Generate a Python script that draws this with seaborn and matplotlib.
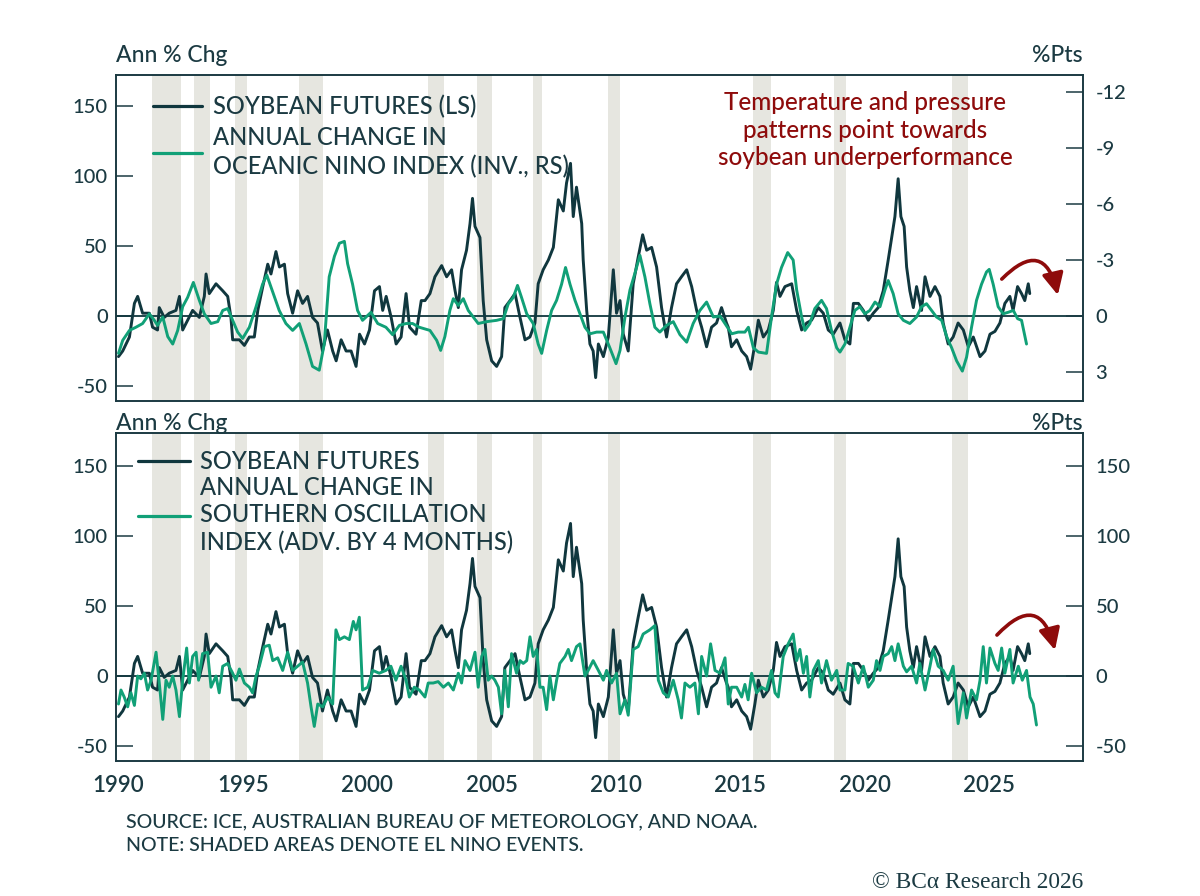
import matplotlib
matplotlib.use("Agg")
import matplotlib.pyplot as plt
import numpy as np
import pandas as pd
import seaborn as sns

# ---------------- DATA ----------------
soy_years = [1990.00, 1990.17, 1990.44, 1990.64, 1990.77, 1990.97, 1991.24, 1991.37, 1991.57, 1991.64,
             1991.84, 1992.04, 1992.31, 1992.45, 1992.58, 1992.78, 1992.98, 1993.25, 1993.45, 1993.52,
             1993.65, 1993.92, 1994.19, 1994.39, 1994.52, 1994.59, 1994.86, 1995.06, 1995.26, 1995.46,
             1995.60, 1995.80, 1996.00, 1996.13, 1996.33, 1996.47, 1996.67, 1996.80, 1997.00, 1997.20,
             1997.40, 1997.60, 1997.80, 1998.00, 1998.20, 1998.40, 1998.61, 1998.75, 1998.95, 1999.15,
             1999.35, 1999.55, 1999.69, 1999.89, 2000.09, 2000.29, 2000.49, 2000.62, 2000.76, 2000.96,
             2001.16, 2001.36, 2001.56, 2001.70, 2001.96, 2002.17, 2002.32, 2002.52, 2002.72, 2002.99,
             2003.19, 2003.39, 2003.53, 2003.66, 2003.79, 2003.99, 2004.13, 2004.23, 2004.33, 2004.53,
             2004.66, 2004.80, 2005.00, 2005.20, 2005.40, 2005.53, 2005.74, 2005.94, 2006.14, 2006.34,
             2006.54, 2006.74, 2006.87, 2007.07, 2007.28, 2007.48, 2007.68, 2007.88, 2008.01, 2008.17,
             2008.28, 2008.41, 2008.62, 2008.68, 2008.82, 2008.95, 2009.08, 2009.18, 2009.29, 2009.49,
             2009.69, 2009.89, 2010.02, 2010.16, 2010.29, 2010.49, 2010.69, 2010.89, 2011.07, 2011.23,
             2011.43, 2011.63, 2011.83, 2012.03, 2012.23, 2012.43, 2012.63, 2012.84, 2013.04, 2013.24,
             2013.44, 2013.64, 2013.84, 2014.04, 2014.24, 2014.44, 2014.51, 2014.64, 2014.85, 2015.05,
             2015.25, 2015.41, 2015.58, 2015.72, 2015.92, 2016.12, 2016.32, 2016.45, 2016.59, 2016.79,
             2017.06, 2017.26, 2017.46, 2017.66, 2017.86, 2018.13, 2018.33, 2018.53, 2018.73, 2019.00,
             2019.20, 2019.40, 2019.54, 2019.74, 2019.94, 2020.14, 2020.34, 2020.54, 2020.74, 2020.94,
             2021.08, 2021.21, 2021.34, 2021.45, 2021.58, 2021.68, 2021.81, 2021.95, 2022.08, 2022.28,
             2022.42, 2022.62, 2022.82, 2023.02, 2023.15, 2023.35, 2023.55, 2023.75, 2023.96, 2024.16,
             2024.36, 2024.63, 2024.83, 2025.03, 2025.23, 2025.43, 2025.63, 2025.83, 2025.96, 2026.14,
             2026.30, 2026.43, 2026.57, 2026.63]
soy_values = [-29, -25, -15, 9, 14, 2, 2, -8, -10, 6,
              -1, 2, 4, 14, -10, -3, 4, -1, 14, 30,
              16, 23, 18, 14, -1, -17, -17, -21, -15, -15,
              4, 21, 37, 30, 46, 35, 37, 16, 2, 18,
              9, 14, -1, -5, -25, -10, -25, -32, -17, -25,
              -25, -36, -13, -20, -10, 18, 21, 4, 14, -1,
              -20, -15, 16, -8, -13, 11, 11, 16, 28, 36,
              28, 33, 18, 6, 33, 47, 66, 84, 64, 56,
              11, -17, -32, -36, -29, 6, 11, 16, -1, -17,
              -15, -5, 23, 33, 40, 49, 83, 75, 95, 109,
              71, 92, 66, 40, 4, -20, -25, -44, -20, -29,
              -15, 33, 2, 11, -13, -25, 23, 42, 58, 47,
              49, 35, 6, -15, 6, 23, 28, 33, 21, 4,
              -8, -22, -8, -5, 6, -5, -8, -22, -17, -25,
              -29, -38, -20, -3, -15, -10, 4, 24, 14, 21,
              23, 4, -10, -5, -3, 6, 2, -10, -13, -5,
              -17, -20, 9, 9, 4, -3, 2, 6, 18, 40,
              56, 71, 98, 71, 64, 35, 18, 6, 21, 4,
              28, 14, 21, 14, -5, -20, -15, -5, -10, -22,
              -15, -29, -25, -13, -11, -5, 9, 14, 4, 21,
              16, 11, 23, 16]

oni_years = [1990.00, 1990.17, 1990.44, 1990.70, 1990.97, 1991.24, 1991.44, 1991.57, 1991.78, 1991.98,
             1992.18, 1992.38, 1992.58, 1992.78, 1993.01, 1993.25, 1993.45, 1993.72, 1993.99, 1994.19,
             1994.39, 1994.59, 1994.79, 1994.99, 1995.26, 1995.53, 1995.79, 1995.96, 1996.17, 1996.46,
             1996.73, 1997.00, 1997.27, 1997.54, 1997.80, 1998.07, 1998.27, 1998.47, 1998.68, 1998.88,
             1999.08, 1999.21, 1999.41, 1999.61, 1999.81, 2000.15, 2000.42, 2000.75, 2001.02, 2001.29,
             2001.56, 2001.82, 2002.09, 2002.52, 2002.79, 2002.95, 2003.12, 2003.32, 2003.46, 2003.66,
             2003.86, 2004.06, 2004.26, 2004.46, 2004.80, 2005.20, 2005.47, 2005.67, 2005.87, 2006.04,
             2006.20, 2006.41, 2006.67, 2006.87, 2007.01, 2007.21, 2007.41, 2007.61, 2007.81, 2007.97,
             2008.15, 2008.35, 2008.55, 2008.75, 2008.95, 2009.22, 2009.49, 2009.75, 2010.00, 2010.16,
             2010.36, 2010.56, 2010.76, 2010.96, 2011.16, 2011.36, 2011.56, 2011.76, 2012.03, 2012.30,
             2012.57, 2012.84, 2013.10, 2013.37, 2013.64, 2013.91, 2014.18, 2014.38, 2014.65, 2014.91,
             2015.18, 2015.32, 2015.52, 2015.72, 2016.05, 2016.25, 2016.45, 2016.65, 2016.90, 2017.12,
             2017.26, 2017.46, 2017.59, 2017.79, 2017.99, 2018.26, 2018.46, 2018.66, 2018.87, 2019.00,
             2019.20, 2019.40, 2019.60, 2019.80, 2020.00, 2020.20, 2020.41, 2020.61, 2020.81, 2020.94,
             2021.14, 2021.34, 2021.55, 2021.81, 2022.08, 2022.28, 2022.48, 2022.68, 2022.88, 2023.09,
             2023.29, 2023.49, 2023.69, 2023.92, 2024.09, 2024.29, 2024.49, 2024.69, 2024.89, 2025.00,
             2025.16, 2025.36, 2025.56, 2025.76, 2025.97, 2026.14, 2026.30, 2026.50]
oni_values = [2.0, 1.3, 0.77, 0.6, 0.4, -0.12, 0.23, 0.5, 0.05, 1.1,
              1.5, 0.77, -0.5, -1.0, -1.8, -0.84, -0.12, 0.4, 0.3, -0.3,
              -0.4, 0.23, 0.86, 1.2, 0.6, -0.5, -1.7, -2.2, -1.4, -0.3,
              0.4, 0.77, 0.4, 1.5, 2.7, 2.9, 1.5, -2.1, -3.2, -3.9,
              -4.0, -2.8, -1.7, -0.3, 0.23, -0.2, 0.4, 0.6, 1.0, 0.5,
              0.4, 0.4, 0.6, 0.77, 1.3, 1.84, 1.1, -0.3, -0.93, -0.57,
              -0.93, -0.3, 0.05, 0.4, 0.3, 0.23, 0.14, -0.66, -1.0, -1.64,
              -1.0, -0.12, 0.4, 1.5, 2.0, 0.77, -0.3, -0.84, -1.7, -2.6,
              -1.7, -0.84, -0.12, 0.6, 0.95, 0.86, 0.86, 1.7, 2.55, 1.84,
              0.05, -1.4, -2.3, -3.25, -2.1, -0.66, 0.6, 0.86, 0.5, 0.3,
              1.0, 1.4, 0.4, -0.3, -0.75, 0.05, 0.0, 0.4, 0.95, 0.86,
              0.86, 0.6, 1.7, 1.93, 2.0, 0.05, -1.7, -2.6, -3.4, -3.0,
              -1.4, 0.05, 0.77, 0.4, -0.4, -0.84, -0.4, 0.77, 1.7, 1.93,
              1.5, 0.6, -0.3, -0.5, -0.12, -0.3, -0.75, -0.5, -1.4, -1.9,
              -1.2, -0.12, 0.23, 0.4, 0.05, -0.5, -0.66, -0.3, 0.05, 0.23,
              1.1, 1.7, 2.4, 2.95, 2.2, 0.6, -0.84, -1.7, -2.36, -2.5,
              -1.7, -0.5, -0.12, -0.2, -0.3, 0.14, 0.23, 1.5]

soi_years = [1990.00, 1990.10, 1990.23, 1990.37, 1990.50, 1990.64, 1990.77, 1990.90, 1991.04, 1991.17,
             1991.31, 1991.51, 1991.64, 1991.78, 1991.91, 1992.04, 1992.18, 1992.31, 1992.45, 1992.58,
             1992.74, 1992.85, 1992.98, 1993.12, 1993.22, 1993.38, 1993.58, 1993.72, 1993.92, 1994.05,
             1994.19, 1994.39, 1994.59, 1994.72, 1994.86, 1995.06, 1995.26, 1995.39, 1995.53, 1995.66,
             1995.86, 1996.06, 1996.20, 1996.40, 1996.60, 1996.80, 1997.00, 1997.20, 1997.40, 1997.60,
             1997.74, 1997.87, 1998.01, 1998.21, 1998.41, 1998.61, 1998.74, 1998.88, 1999.08, 1999.28,
             1999.44, 1999.55, 1999.68, 1999.81, 2000.02, 2000.22, 2000.48, 2000.75, 2000.95, 2001.15,
             2001.36, 2001.56, 2001.69, 2001.89, 2002.09, 2002.32, 2002.45, 2002.65, 2002.85, 2003.06,
             2003.26, 2003.46, 2003.66, 2003.79, 2003.93, 2004.13, 2004.33, 2004.46, 2004.60, 2004.73,
             2004.86, 2005.00, 2005.13, 2005.27, 2005.40, 2005.53, 2005.67, 2005.80, 2006.00, 2006.14,
             2006.27, 2006.41, 2006.54, 2006.67, 2006.81, 2006.94, 2007.07, 2007.21, 2007.34, 2007.48,
             2007.61, 2007.74, 2007.95, 2008.08, 2008.21, 2008.41, 2008.55, 2008.75, 2008.88, 2009.08,
             2009.29, 2009.49, 2009.62, 2009.82, 2010.02, 2010.16, 2010.36, 2010.49, 2010.69, 2010.89,
             2011.09, 2011.36, 2011.56, 2011.70, 2011.90, 2012.10, 2012.30, 2012.50, 2012.63, 2012.77,
             2012.97, 2013.17, 2013.31, 2013.44, 2013.64, 2013.80, 2013.98, 2014.18, 2014.38, 2014.51,
             2014.64, 2014.85, 2015.05, 2015.18, 2015.31, 2015.45, 2015.65, 2015.85, 2016.05, 2016.25,
             2016.39, 2016.52, 2016.72, 2016.92, 2017.12, 2017.26, 2017.39, 2017.53, 2017.66, 2017.79,
             2017.93, 2018.13, 2018.26, 2018.46, 2018.66, 2018.87, 2019.00, 2019.20, 2019.33, 2019.53,
             2019.74, 2019.94, 2020.14, 2020.34, 2020.47, 2020.61, 2020.74, 2020.94, 2021.08, 2021.21,
             2021.34, 2021.55, 2021.68, 2021.88, 2022.08, 2022.21, 2022.42, 2022.62, 2022.75, 2022.95,
             2023.15, 2023.35, 2023.55, 2023.75, 2023.96, 2024.09, 2024.29, 2024.49, 2024.63, 2024.76,
             2024.89, 2025.03, 2025.23, 2025.36, 2025.50, 2025.63, 2025.83, 2025.96, 2026.17, 2026.33,
             2026.50, 2026.64, 2026.77, 2026.90]
soi_values = [-20, -10, -15, -22, -12, -21, 0, -2, 2, -10,
              -3, 17, -5, -31, -3, -8, 0, -10, -29, -3,
              20, -5, 14, 17, -3, 16, 17, -8, 0, -12,
              7, 9, 2, -3, 5, -5, -8, -12, 0, 7,
              21, 22, 11, 13, 4, 17, 4, 7, 10, -5,
              -22, -36, -20, -22, -15, -20, 33, 26, 28, 26,
              39, 33, 42, -10, -8, 4, 2, 4, 7, -3,
              7, -3, -15, -8, -10, -15, -5, -5, -4, -8,
              -5, -10, 2, -5, 11, 4, 17, -8, 14, 19,
              -3, 0, -3, -8, -27, 4, -22, 16, 2, 11,
              9, 11, 28, 14, 19, -8, -8, -24, 0, -17,
              -3, 9, 14, 19, 11, 21, 23, 0, 4, 11,
              4, -3, 4, -5, 2, -27, -17, -28, 19, 21,
              30, 33, 36, -3, -12, -15, -3, -17, -30, -5,
              -8, -5, -27, 14, 0, 23, 4, 2, 13, -20,
              -8, -8, -15, -6, -17, 2, -12, -8, -10, 4,
              -12, -15, 14, 23, 30, 11, 19, 2, 14, -15,
              4, 11, -5, 11, -3, 4, -10, -10, 9, 7,
              -5, 7, -8, -3, 11, 4, 14, 16, 21, 11,
              23, 7, 3, 7, -5, 9, -10, 7, 19, 7,
              4, -3, 7, -34, -12, -30, -10, -17, -3, 21,
              -5, 20, 9, 4, 20, 2, 19, -5, 7, -3,
              4, -15, -20, -35]

elnino_start = [1991.35, 1993.03, 1994.68, 1997.25, 2002.44, 2004.41, 2006.66, 2009.67, 2015.50, 2018.76, 2023.50]
elnino_end = [1992.51, 1993.68, 1995.16, 1998.22, 2003.08, 2005.01, 2007.03, 2010.15, 2016.22, 2019.24, 2024.14]

year_ticks = [1990, 1995, 2000, 2005, 2010, 2015, 2020, 2025]
left_ticks = [150, 100, 50, 0, -50]
oni_ticks = [-12, -9, -6, -3, 0, 3]

# ---------------- STYLE ----------------
sns.set_style("white")
plt.rcParams['font.family'] = ['Lato', 'DejaVu Sans']
plt.rcParams['axes.unicode_minus'] = False

DARK = "#10373e"
GREEN = "#11a077"
SHADE = "#e6e6e0"
SPINE = "#1b3a42"
RED = "#8e0b0b"
TXT = "#1b3a42"
LW = 2.1
WT = 'medium'

soy = pd.DataFrame({"year": soy_years, "value": soy_values})
oni = pd.DataFrame({"year": oni_years, "value": oni_values})
soi = pd.DataFrame({"year": soi_years, "value": soi_values})

fig = plt.figure(figsize=(12, 8.96), dpi=100)
ax1 = fig.add_axes([116/1200, 1-401/896, 967/1200, 326/896])
ax2 = fig.add_axes([116/1200, 1-761/896, 967/1200, 328/896])

XLIM = (1989.9, 2028.77)

def style_axis(ax):
    for s in ax.spines.values():
        s.set_color(SPINE)
        s.set_linewidth(1.2)
    ax.tick_params(axis='y', direction='in', length=12, width=1.1, color=SPINE,
                   labelsize=14.5, labelcolor=TXT, pad=6)
    for t in ax.get_yticklabels():
        t.set_fontweight(WT)

def shade(ax):
    for s, e in zip(elnino_start, elnino_end):
        ax.axvspan(s, e, color=SHADE, lw=0, zorder=0)

# ---- top panel ----
shade(ax1)
ax1.axhline(0, color=DARK, lw=1.3, zorder=1)
sns.lineplot(data=soy, x="year", y="value", ax=ax1, color=DARK, lw=LW,
             estimator=None, sort=False, label="SOYBEAN FUTURES (LS)", legend=False, zorder=2)
ax1.set_xlim(*XLIM)
ax1.set_ylim(-60.7, 172.1)
ax1.set_yticks(left_ticks)
ax1.set_xticks([])
ax1.set_xlabel("")
ax1.set_ylabel("")
style_axis(ax1)

ax1r = ax1.twinx()
sns.lineplot(data=oni, x="year", y="value", ax=ax1r, color=GREEN, lw=LW,
             estimator=None, sort=False,
             label="ANNUAL CHANGE IN\nOCEANIC NINO INDEX (INV., RS)", legend=False)
ax1r.set_ylim(4.55, -12.91)
ax1r.set_yticks(oni_ticks)
ax1r.set_ylabel("")
ax1r.set_xlim(*XLIM)
style_axis(ax1r)
ax1r.tick_params(axis='y', pad=9)

h1 = ax1.get_lines()[-1:] + ax1r.get_lines()
leg1 = ax1r.legend(handles=h1, labels=[l.get_label() for l in h1], loc='upper left',
                   bbox_to_anchor=(0.038, 0.940), frameon=False,
                   prop={'size': 17, 'weight': WT},
                   handlelength=2.08, handletextpad=0.47, borderpad=0, borderaxespad=0,
                   labelspacing=0.33)
for t in leg1.get_texts():
    t.set_color(TXT)
    t.set_linespacing(1.3)
for l in leg1.get_lines():
    l.set_linewidth(2.3)

ax1r.text(0.775, 0.831, "Temperature and pressure\npatterns point towards\nsoybean underperformance",
          transform=ax1r.transAxes, ha='center', va='center', fontsize=17.5, color=RED,
          linespacing=1.22, fontweight='medium')
ax1r.annotate("", xy=(0.974, 0.325), xytext=(0.916, 0.374), xycoords='axes fraction',
              arrowprops=dict(arrowstyle="-|>,head_length=0.65,head_width=0.32",
                              connectionstyle="arc3,rad=-0.9", color=RED, lw=2.6,
                              mutation_scale=20, shrinkA=0, shrinkB=0))

# ---- bottom panel ----
shade(ax2)
ax2.axhline(0, color=DARK, lw=1.3, zorder=1)
sns.lineplot(data=soy, x="year", y="value", ax=ax2, color=DARK, lw=LW,
             estimator=None, sort=False, label="SOYBEAN FUTURES", legend=False, zorder=2)
sns.lineplot(data=soi, x="year", y="value", ax=ax2, color=GREEN, lw=LW,
             estimator=None, sort=False,
             label="ANNUAL CHANGE IN\nSOUTHERN OSCILLATION\nINDEX (ADV. BY 4 MONTHS)",
             legend=False, zorder=3)
ax2.set_xlim(*XLIM)
ax2.set_ylim(-60.7, 173.6)
ax2.set_yticks(left_ticks)
ax2.set_xticks(year_ticks)
ax2.set_xticklabels([str(y) for y in year_ticks])
ax2.set_xlabel("")
ax2.set_ylabel("")
style_axis(ax2)
ax2.tick_params(axis='x', direction='in', length=12, width=2.0, color=SPINE,
                labelsize=16, labelcolor=TXT, pad=10)
for t in ax2.get_xticklabels():
    t.set_fontweight('semibold')

ax2r = ax2.twinx()
ax2r.set_ylim(-60.7, 173.6)
ax2r.set_yticks(left_ticks)
style_axis(ax2r)
ax2r.tick_params(axis='y', pad=9)

h2 = ax2.get_lines()[1:3]
leg2 = ax2.legend(handles=h2, labels=[l.get_label() for l in h2], loc='upper left',
                  bbox_to_anchor=(0.0228, 0.947), frameon=False,
                  prop={'size': 17, 'weight': WT},
                  handlelength=2.2, handletextpad=0.42, borderpad=0, borderaxespad=0,
                  labelspacing=0.1)
for t in leg2.get_texts():
    t.set_color(TXT)
    t.set_linespacing(1.25)
for l in leg2.get_lines():
    l.set_linewidth(2.3)

ax2r.annotate("", xy=(0.971, 0.338), xytext=(0.911, 0.384), xycoords='axes fraction',
              arrowprops=dict(arrowstyle="-|>,head_length=0.65,head_width=0.32",
                              connectionstyle="arc3,rad=-0.9", color=RED, lw=2.6,
                              mutation_scale=20, shrinkA=0, shrinkB=0))

# ---- header / footer texts ----
for yc in (55, 423):
    fig.text(116/1200, 1-yc/896, "Ann % Chg", ha='left', va='center', fontsize=16.5,
             color=TXT, fontweight=WT)
    fig.text(1083/1200, 1-yc/896, "%Pts", ha='right', va='center', fontsize=16.5,
             color=TXT, fontweight=WT)

fig.text(126/1200, 1-822/896, "SOURCE: ICE, AUSTRALIAN BUREAU OF METEOROLOGY, AND NOAA.",
         ha='left', va='center', fontsize=14, color=TXT, fontweight=WT)
fig.text(126/1200, 1-845/896, "NOTE: SHADED AREAS DENOTE EL NINO EVENTS.",
         ha='left', va='center', fontsize=14, color=TXT, fontweight=WT)
fig.text(1083/1200, 1-882/896, "© BCα Research 2026", ha='right', va='center',
         fontsize=16.8, color=TXT, family=['Liberation Serif', 'DejaVu Serif'])

fig.savefig("out.png", dpi=100, facecolor='white')
